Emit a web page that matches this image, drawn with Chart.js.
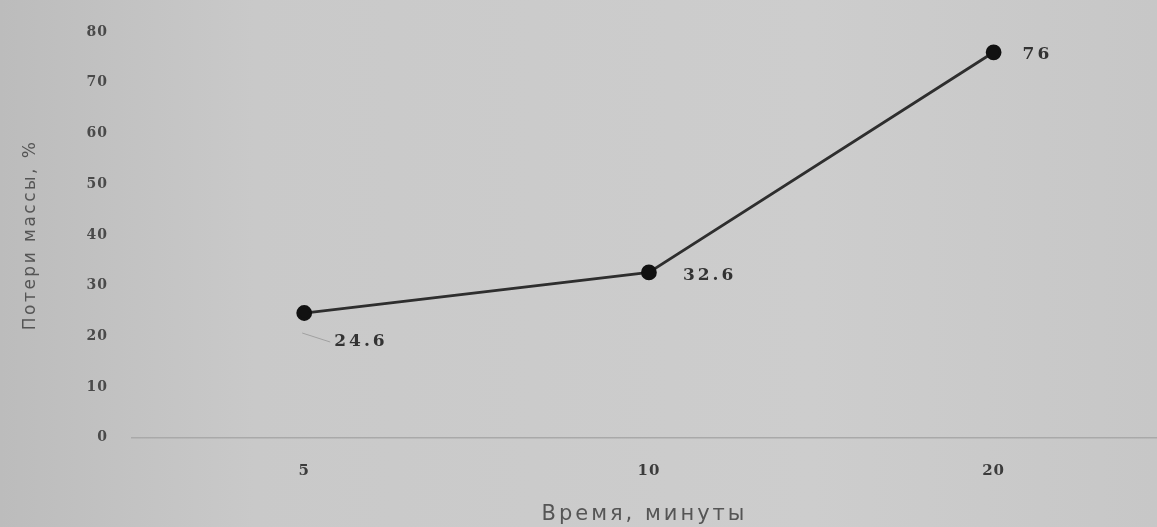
<!DOCTYPE html>
<html>
<head>
<meta charset="utf-8">
<script src="https://cdn.jsdelivr.net/npm/chart.js@4.4.1/dist/chart.umd.min.js"></script>
<style>
  html, body { margin: 0; padding: 0; background: #c9c9c9; overflow: hidden; }
  #wrap { width: 1157px; height: 527px; }
</style>
</head>
<body>
<div id="wrap"><canvas id="c" width="1157" height="527"></canvas></div>
<script>
// Mass loss over time
const categories = ['5', '10', '20'];
const massLoss = [24.6, 32.6, 76];
const valueLabels = ['24.6', '32.6', '76'];
const yTicks = [0, 10, 20, 30, 40, 50, 60, 70, 80];

// Letter spacing picked per font size (px), so wide lettering follows the font
const spacingBySize = { 14: '1px', 15: '1px', 17: '2.5px', 21: '3px' };

const canvas = document.getElementById('c');
const ctx2d = canvas.getContext('2d');
const fontDesc = Object.getOwnPropertyDescriptor(CanvasRenderingContext2D.prototype, 'font');
Object.defineProperty(ctx2d, 'font', {
  get() { return fontDesc.get.call(this); },
  set(v) {
    fontDesc.set.call(this, v);
    const m = /(\d+(?:\.\d+)?)px/.exec(v);
    this.letterSpacing = (m && spacingBySize[m[1]]) || '0px';
  }
});

// Each category sits at its index on the x scale
const points = massLoss.map((v, i) => ({ x: i, y: v }));

// Soft grey paper background
const paperBackground = {
  id: 'paperBackground',
  beforeDraw(chart) {
    const { ctx, width, height } = chart;
    const g = ctx.createLinearGradient(0, 0, width, 0);
    g.addColorStop(0, '#bcbcbc');
    g.addColorStop(0.22, '#c9c9c9');
    g.addColorStop(0.7, '#cdcdcd');
    g.addColorStop(1, '#c7c7c7');
    ctx.save();
    ctx.fillStyle = g;
    ctx.fillRect(0, 0, width, height);
    ctx.restore();
  }
};

// Value labels next to each point
const pointValueLabels = {
  id: 'pointValueLabels',
  afterDatasetsDraw(chart) {
    const { ctx } = chart;
    const meta = chart.getDatasetMeta(0);
    const offsets = [[30, 29], [34, 3], [29, 2]];
    ctx.save();
    ctx.font = 'bold 17px "DejaVu Serif", serif';
    ctx.letterSpacing = '3px';
    ctx.fillStyle = '#333';
    ctx.textBaseline = 'middle';
    ctx.textAlign = 'left';
    meta.data.forEach((pt, i) => {
      const [dx, dy] = offsets[i];
      if (i === 0) {
        // short leader line for the first label
        ctx.strokeStyle = 'rgba(110,110,110,0.45)';
        ctx.lineWidth = 1;
        ctx.beginPath();
        ctx.moveTo(pt.x - 2, pt.y + 20);
        ctx.lineTo(pt.x + dx - 4, pt.y + dy);
        ctx.stroke();
      }
      ctx.fillText(valueLabels[i], pt.x + dx, pt.y + dy);
    });
    ctx.restore();
  }
};

new Chart(canvas, {
  type: 'line',
  data: {
    datasets: [{
      data: points,
      borderColor: '#2e2e2e',
      borderWidth: 2.8,
      backgroundColor: '#111',
      pointBackgroundColor: '#111',
      pointBorderColor: '#111',
      pointRadius: 6.5,
      tension: 0,
      fill: false
    }]
  },
  options: {
    responsive: false,
    animation: false,
    layout: {
      autoPadding: false,
      padding: { top: 32, right: 0, left: 20, bottom: 0 }
    },
    plugins: {
      legend: { display: false },
      tooltip: { enabled: false }
    },
    scales: {
      x: {
        type: 'linear',
        // half a category of room on the left; the plot is cut by the right edge
        min: -0.5,
        max: 2.474,
        afterBuildTicks(axis) {
          axis.ticks = categories.map((_, i) => ({ value: i }));
        },
        grid: { display: false },
        border: { display: true, color: '#a9a9a9', width: 1.5 },
        ticks: {
          callback: (v) => categories[v],
          autoSkip: false,
          maxRotation: 0,
          color: '#3c3c3c',
          font: { family: '"DejaVu Serif", serif', size: 15, weight: 'bold' },
          padding: 16
        },
        title: {
          display: true,
          text: 'Время, минуты',
          color: '#555',
          font: { family: '"DejaVu Sans", sans-serif', size: 21 },
          padding: { top: 6, bottom: 0 }
        }
      },
      y: {
        min: 0,
        max: 80,
        afterBuildTicks(axis) {
          axis.ticks = yTicks.map(v => ({ value: v }));
        },
        grid: { display: false },
        border: { display: false },
        ticks: {
          color: '#4a4a4a',
          font: { family: '"DejaVu Serif", serif', size: 14, weight: 'bold' },
          padding: 16
        },
        title: {
          display: true,
          text: 'Потери массы, %',
          color: '#555',
          font: { family: '"DejaVu Sans", sans-serif', size: 17 },
          padding: { top: 0, bottom: 30 }
        }
      }
    }
  },
  plugins: [paperBackground, pointValueLabels]
});
</script>
</body>
</html>
